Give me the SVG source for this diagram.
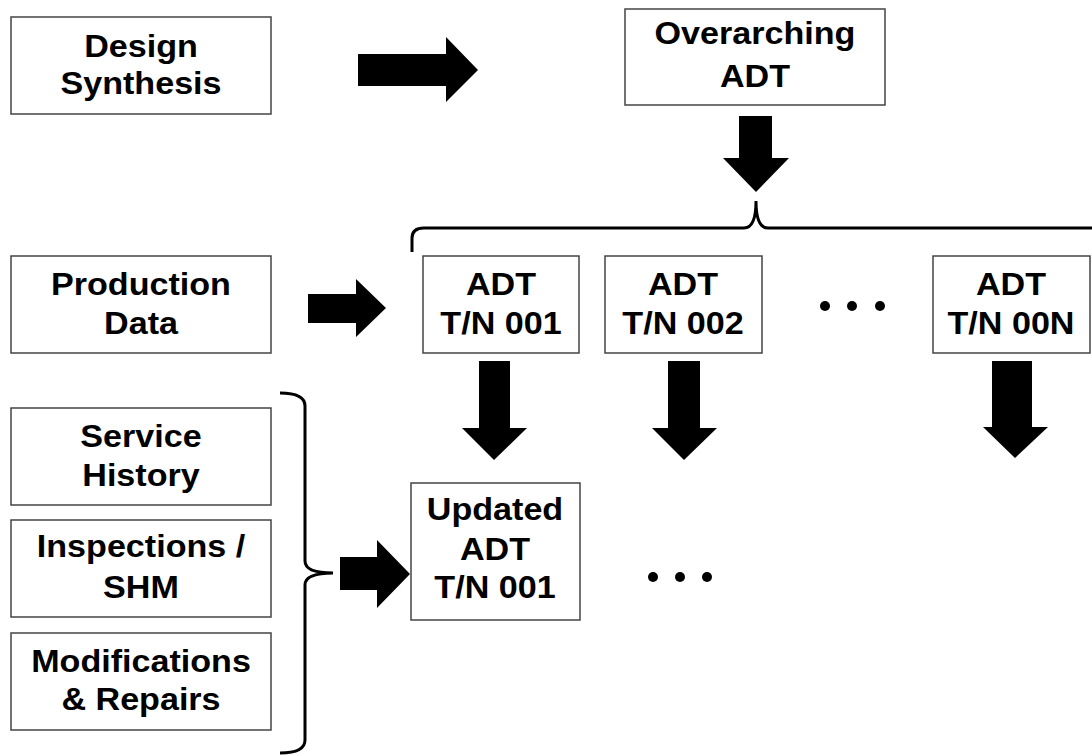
<svg xmlns="http://www.w3.org/2000/svg" width="1092" height="755" viewBox="0 0 1092 755">
<style>
.box{fill:#fff;stroke:#444;stroke-width:1.5}
.t{font-family:"Liberation Sans",Arial,sans-serif;font-weight:bold;font-size:31px;fill:#000;text-anchor:middle}
.arr{fill:#000}
.br{fill:none;stroke:#000;stroke-width:3}
</style>
<rect width="1092" height="755" fill="#fff"/>
<g id="design"><rect class="box" x="11" y="17" width="260" height="97"/><g transform="translate(141 0) scale(1.1 1)"><text class="t" x="0" y="57">Design</text><text class="t" x="0" y="94">Synthesis</text></g></g>
<g id="overarching"><rect class="box" x="625" y="9" width="260" height="96"/><g transform="translate(755 0) scale(1.1 1)"><text class="t" x="0" y="44">Overarching</text><text class="t" x="0" y="87">ADT</text></g></g>
<g id="production"><rect class="box" x="11" y="256" width="260" height="97"/><g transform="translate(141 0) scale(1.1 1)"><text class="t" x="0" y="295">Production</text><text class="t" x="0" y="334">Data</text></g></g>
<g id="adt001"><rect class="box" x="423" y="256" width="156" height="97"/><g transform="translate(501 0) scale(1.1 1)"><text class="t" x="0" y="295">ADT</text><text class="t" x="0" y="334">T/N 001</text></g></g>
<g id="adt002"><rect class="box" x="605" y="256" width="157" height="97"/><g transform="translate(683 0) scale(1.1 1)"><text class="t" x="0" y="295">ADT</text><text class="t" x="0" y="334">T/N 002</text></g></g>
<g id="adt00n"><rect class="box" x="933" y="256" width="157" height="97"/><g transform="translate(1011 0) scale(1.1 1)"><text class="t" x="0" y="295">ADT</text><text class="t" x="0" y="334">T/N 00N</text></g></g>
<g id="dots1"><circle cx="825" cy="306" r="5"/><circle cx="852" cy="306" r="5"/><circle cx="880" cy="306" r="5"/></g>
<g id="service"><rect class="box" x="11" y="408" width="260" height="97"/><g transform="translate(141 0) scale(1.1 1)"><text class="t" x="0" y="447">Service</text><text class="t" x="0" y="486">History</text></g></g>
<g id="inspections"><rect class="box" x="11" y="520" width="260" height="97"/><g transform="translate(141 0) scale(1.1 1)"><text class="t" x="0" y="557">Inspections /</text><text class="t" x="0" y="598">SHM</text></g></g>
<g id="modifications"><rect class="box" x="11" y="633" width="260" height="97"/><g transform="translate(141 0) scale(1.1 1)"><text class="t" x="0" y="672">Modifications</text><text class="t" x="0" y="710">&amp; Repairs</text></g></g>
<g id="updated"><rect class="box" x="411" y="483" width="169" height="137"/><g transform="translate(495 0) scale(1.1 1)"><text class="t" x="0" y="520">Updated</text><text class="t" x="0" y="560">ADT</text><text class="t" x="0" y="598">T/N 001</text></g></g>
<g id="dots2"><circle cx="653" cy="577" r="5"/><circle cx="680" cy="577" r="5"/><circle cx="707" cy="577" r="5"/></g>
<g id="connectors">
<polygon class="arr" points="358,54 446,54 446,37 478,70 446,102 446,86 358,86"/>
<polygon class="arr" points="739,116 772,116 772,158 789,158 756,192 723,158 739,158"/>
<polygon class="arr" points="308,294 356,294 356,279 386,308 356,337 356,323 308,323"/>
<polygon class="arr" points="479,361 510,361 510,428 527,428 494,460 462,428 479,428"/>
<polygon class="arr" points="668,361 700,361 700,428 717,428 684,460 652,428 668,428"/>
<polygon class="arr" points="992,361 1032,361 1032,427 1048,427 1015,458 983,427 992,427"/>
<polygon class="arr" points="340,557 377,557 377,540 410,574 377,608 377,590 340,590"/>
<path class="br" d="M412,252 L412,238 Q412,228 424,228 L744,228 Q756,228 756,201 Q756,228 768,228 L1092,228"/>
<path class="br" d="M280,393 Q305,393 305,406 L305,561 Q305,573 333,573 Q305,573 305,585 L305,740 Q305,753 280,753"/>
</g>
</svg>
